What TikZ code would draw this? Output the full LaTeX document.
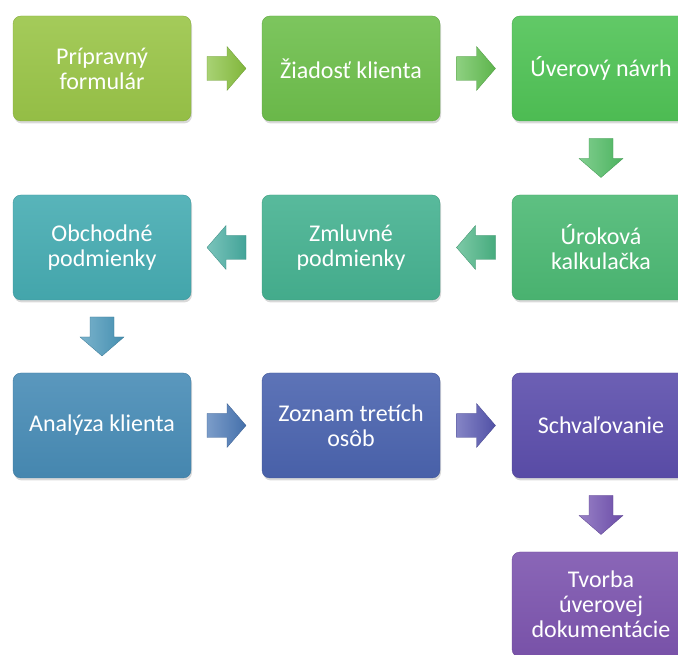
\documentclass[tikz,border=0pt]{standalone}
\usepackage{fontspec}
\setmainfont{Carlito}
\usetikzlibrary{calc,shadows}
\definecolor{c1}{RGB}{154,197,72}
\definecolor{c2}{RGB}{110,191,76}
\definecolor{c3}{RGB}{80,195,86}
\definecolor{c4}{RGB}{76,185,116}
\definecolor{c5}{RGB}{70,178,145}
\definecolor{c6}{RGB}{70,172,178}
\definecolor{c7}{RGB}{72,140,182}
\definecolor{c8}{RGB}{75,100,175}
\definecolor{c9}{RGB}{92,78,172}
\definecolor{c10}{RGB}{125,85,175}
\definecolor{a1}{RGB}{135,192,62}
\definecolor{a2}{RGB}{98,190,80}
\definecolor{a3}{RGB}{80,188,100}
\definecolor{a4}{RGB}{74,180,132}
\definecolor{a5}{RGB}{70,172,160}
\definecolor{a6}{RGB}{72,150,185}
\definecolor{a7}{RGB}{72,118,180}
\definecolor{a8}{RGB}{85,85,175}
\definecolor{a9}{RGB}{112,80,176}
\tikzset{
  box/.style={rounded corners=8pt, minimum width=178pt, minimum height=105pt,
    inner sep=0pt, text=white, font=\fontsize{24}{25}\selectfont, align=center,
    top color=#1!90!white, bottom color=#1!96!black, draw=#1!88!black, line width=0.4pt,
    drop shadow={shadow xshift=1pt, shadow yshift=-2.5pt, opacity=0.3}},
  blockarr/.style={left color=#1!72!white, right color=#1!95!black, draw=#1!80!black, line width=0.3pt}
}
\newcommand\blockarrow[4]{%
  \path ($(#1)!0.5!(#2)$) coordinate (tmpmid);
  \begin{scope}[shift={(tmpmid)}, rotate=#3]
    \path[blockarr=#4] (-19.5,-12) -- (0.5,-12) -- (0.5,-22) -- (19.5,0)
      -- (0.5,22) -- (0.5,12) -- (-19.5,12) -- cycle;
  \end{scope}}
\begin{document}
\begin{tikzpicture}[x=1pt,y=1pt]
\path[use as bounding box] (0,0) rectangle (678,654);
\clip (0,0) rectangle (678,654);
\node[box=c1] (b1) at (102,585.5) {Prípravný\\formulár};
\node[box=c2] (b2) at (351,585.5) {Žiadosť klienta};
\node[box=c3] (b3) at (601,585.5) {Úverový návrh};
\node[box=c4] (b4) at (601,406.5) {Úroková\\kalkulačka};
\node[box=c5] (b5) at (351,406.5) {Zmluvné\\podmienky};
\node[box=c6] (b6) at (102,406.5) {Obchodné\\podmienky};
\node[box=c7] (b7) at (102,228.5) {Analýza klienta};
\node[box=c8] (b8) at (351,228.5) {Zoznam tretích\\osôb};
\node[box=c9] (b9) at (601,228.5) {Schvaľovanie};
\node[box=c10] (b10) at (601,49.5) {Tvorba\\úverovej\\dokumentácie};
\blockarrow{b1.east}{b2.west}{0}{a1}
\blockarrow{b2.east}{b3.west}{0}{a2}
\blockarrow{b3.south}{b4.north}{-90}{a3}
\blockarrow{b4.west}{b5.east}{180}{a4}
\blockarrow{b5.west}{b6.east}{180}{a5}
\blockarrow{b6.south}{b7.north}{-90}{a6}
\blockarrow{b7.east}{b8.west}{0}{a7}
\blockarrow{b8.east}{b9.west}{0}{a8}
\blockarrow{b9.south}{b10.north}{-90}{a9}
\end{tikzpicture}
\end{document}
